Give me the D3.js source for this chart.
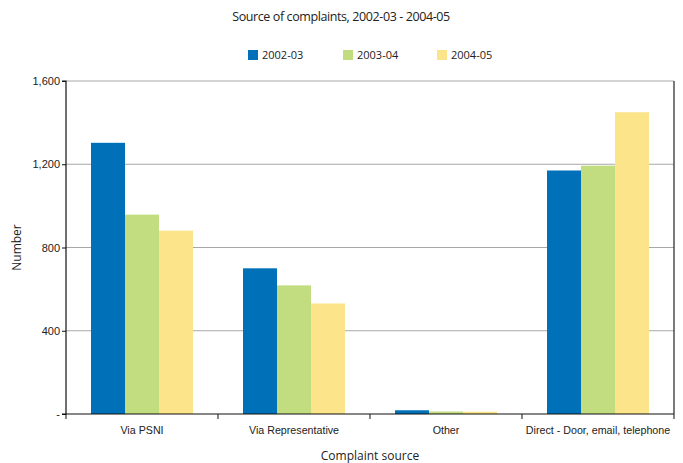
<!DOCTYPE html>
<html>
<head>
<meta charset="utf-8">
<script src="https://cdn.jsdelivr.net/npm/d3@7/dist/d3.min.js"></script>
<style>
  html, body { margin: 0; padding: 0; background: #fff; }
  svg { display: block; font-family: "Open Sans", "Noto Sans", sans-serif; }
</style>
</head>
<body>
<svg id="chart" width="683" height="463"></svg>
<script>
// Complaint sources by year
const categories = ["Via PSNI", "Via Representative", "Other", "Direct - Door, email, telephone"];
const years = ["2002-03", "2003-04", "2004-05"];
const values2002 = [1303, 700, 18, 1170];
const values2003 = [958, 618, 12, 1193];
const values2004 = [881, 531, 11, 1450];
const yTicks = [0, 400, 800, 1200, 1600];
const colors = ["#0071b9", "#c1dd7f", "#fce48b"];

const series = [values2002, values2003, values2004];

const svg = d3.select("#chart");
const margin = { left: 66, right: 9, top: 81, bottom: 49 };
const W = 683, H = 463;
const innerW = W - margin.left - margin.right;
const innerH = H - margin.top - margin.bottom;

const g = svg.append("g").attr("transform", `translate(${margin.left},${margin.top})`);

const x0 = d3.scaleBand().domain(categories).range([0, innerW]).paddingInner(0).paddingOuter(0);
const x1 = d3.scaleBand().domain(years).range([25, x0.bandwidth() - 25]).padding(0);
const y = d3.scaleLinear().domain([0, 1600]).range([innerH, 0]);

// Gridlines
g.append("g")
  .selectAll("line")
  .data(yTicks.filter(d => d > 0))
  .join("line")
  .attr("x1", 0).attr("x2", innerW)
  .attr("y1", d => y(d)).attr("y2", d => y(d))
  .attr("stroke", "#a8a8a8").attr("stroke-width", 1);

// Bars
const groups = g.append("g")
  .selectAll("g")
  .data(categories)
  .join("g")
  .attr("transform", d => `translate(${x0(d)},0)`);

groups.selectAll("rect")
  .data((c, i) => years.map((yr, k) => ({ yr, k, v: series[k][i] })))
  .join("rect")
  .attr("x", d => x1(d.yr))
  .attr("width", x1.bandwidth())
  .attr("y", d => y(d.v))
  .attr("height", d => innerH - y(d.v))
  .attr("fill", d => colors[d.k]);

// Right frame line
g.append("line")
  .attr("x1", innerW).attr("x2", innerW)
  .attr("y1", 0).attr("y2", innerH)
  .attr("stroke", "#222").attr("stroke-width", 1.2);

// Y axis
const yAxis = d3.axisLeft(y)
  .tickValues(yTicks)
  .tickSize(4)
  .tickPadding(2)
  .tickFormat(d => d === 0 ? "-" : d3.format(",")(d));
const yg = g.append("g").call(yAxis);
yg.select(".domain").attr("stroke", "#111").attr("stroke-width", 1.2).attr("d", `M-4,0H0V${innerH}H-4`);
yg.selectAll(".tick line").attr("stroke", "#111");
yg.selectAll("text").attr("font-size", 11).attr("fill", "#222");

// X axis
const xAxis = d3.axisBottom(x0).tickSize(0).tickPadding(12);
const xg = g.append("g").attr("transform", `translate(0,${innerH})`).call(xAxis);
xg.select(".domain").attr("stroke", "#111").attr("stroke-width", 1.2).attr("d", `M0,0H${innerW}`);
xg.selectAll("text").attr("font-size", 10.7).attr("fill", "#222");
// boundary ticks between categories
xg.append("g")
  .selectAll("line")
  .data(d3.range(categories.length + 1))
  .join("line")
  .attr("x1", i => i * x0.bandwidth()).attr("x2", i => i * x0.bandwidth())
  .attr("y1", 0).attr("y2", 5)
  .attr("stroke", "#111").attr("stroke-width", 1);

// Title
svg.append("text")
  .attr("x", 341).attr("y", 21)
  .attr("text-anchor", "middle")
  .attr("font-size", 12.5).attr("letter-spacing", -0.4).attr("fill", "#222")
  .text("Source of complaints, 2002-03 - 2004-05");

// Axis titles
svg.append("text")
  .attr("x", margin.left + innerW / 2).attr("y", 460)
  .attr("text-anchor", "middle")
  .attr("font-size", 12).attr("fill", "#222")
  .text("Complaint source");

svg.append("text")
  .attr("transform", `translate(21,${margin.top + innerH / 2}) rotate(-90)`)
  .attr("text-anchor", "middle")
  .attr("font-size", 12).attr("fill", "#222")
  .text("Number");

// Legend
const legendX = [248, 343, 437];
const legend = svg.append("g")
  .selectAll("g")
  .data(years)
  .join("g")
  .attr("transform", (d, i) => `translate(${legendX[i]},50)`);
legend.append("rect").attr("width", 10).attr("height", 10).attr("fill", (d, i) => colors[i]);
legend.append("text")
  .attr("x", 14).attr("y", 9)
  .attr("font-size", 11).attr("fill", "#222")
  .text(d => d);
</script>
</body>
</html>
